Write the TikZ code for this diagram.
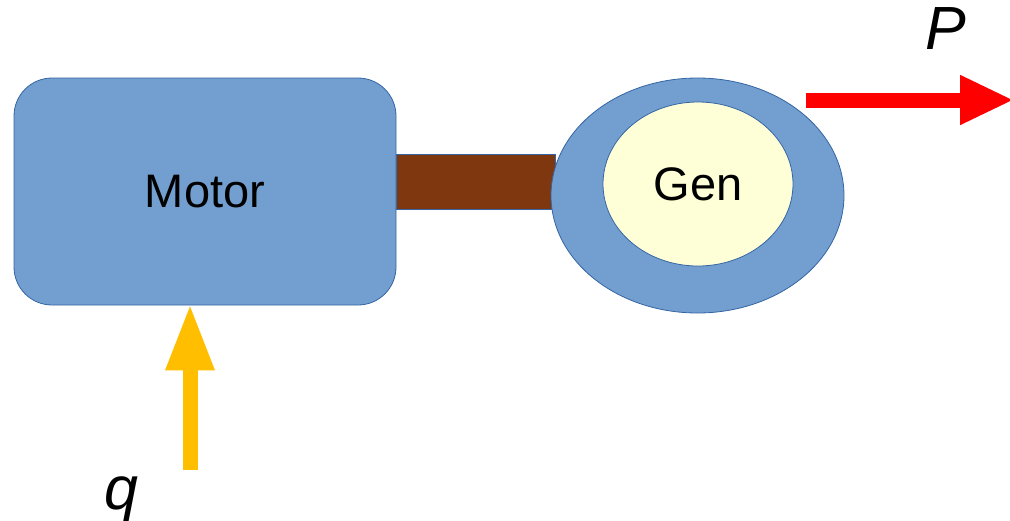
\documentclass[tikz,border=0pt]{standalone}
\usepackage{fontspec}
\setmainfont{Liberation Sans}
\usetikzlibrary{shapes.geometric,arrows.meta}
\definecolor{bfill}{HTML}{729FCF}
\definecolor{bline}{HTML}{3465A4}
\definecolor{shaftc}{HTML}{7F3710}
\definecolor{genfill}{HTML}{FFFFD7}
\definecolor{qcol}{HTML}{FFBF00}
\begin{document}
\begin{tikzpicture}[x=1pt,y=-1pt,
  part/.style={fill=bfill,draw=bline,line width=0.8pt},
  lbl/.style={font=\fontsize{47}{50}\selectfont,text=black},
  mathlbl/.style={font=\fontsize{61}{64}\selectfont\itshape,text=black}]
\useasboundingbox (0,0) rectangle (1010,520);
% shaft (behind)
\node[part,fill=shaftc,minimum width=159pt,minimum height=55pt,inner sep=0pt,anchor=west] (shaft) at (396,181.5) {};
\node[part,rounded corners=38pt,minimum width=382pt,minimum height=227pt,inner sep=0pt] (motor) at (205,191.5) {};
\node[lbl] at (motor.center) {Motor};
\node[part,ellipse,minimum width=293pt,minimum height=235pt,inner sep=0pt] (outer) at (697.5,195.5) {};
\node[part,ellipse,fill=genfill,minimum width=190pt,minimum height=164pt,inner sep=0pt] (gen) at (698,184) {};
\node[lbl] at (gen.center) {Gen};
% power out
\coordinate (pstart) at (806,100);
\coordinate (pend) at (1014,100);
\draw[red,line width=15pt,-{Triangle[length=54pt,width=46pt]}] (pstart) -- (pend);
\node[mathlbl] (P) at (946,29) {P};
% heat in
\coordinate (qstart) at (190,470);
\draw[qcol,line width=15pt,-{Triangle[length=67pt,width=45pt]}] (qstart) -- ([yshift=2pt]qstart |- motor.south);
\node[mathlbl] (q) at (121,499) {q};
\end{tikzpicture}
\end{document}
